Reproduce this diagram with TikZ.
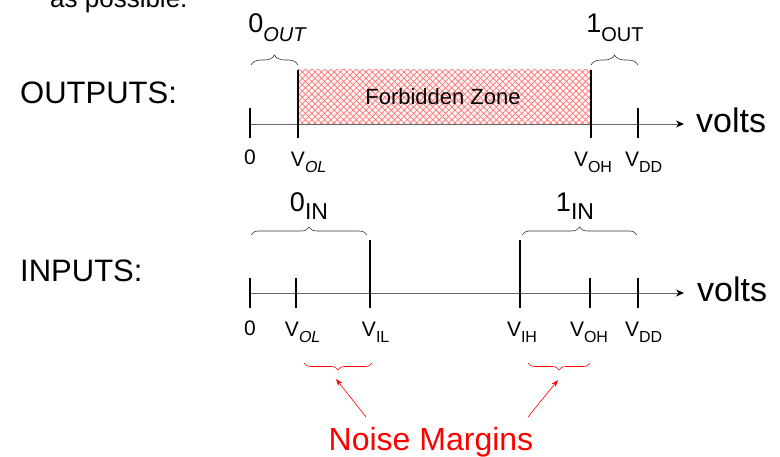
\documentclass[tikz,border=0pt]{standalone}
\usepackage{fontspec}
\setmainfont{Liberation Sans}
\usetikzlibrary{arrows.meta,decorations.pathreplacing,patterns.meta}

\newcommand\fsz[1]{\fontsize{#1}{#1}\selectfont}
\newcommand\lsub[3]{\raisebox{-#1pt}{\fsz{#2}#3}}

\tikzset{
  axisline/.style={draw=black!60, line width=0.9pt, -{Stealth[black,length=8pt,width=7pt]}},
  tickmark/.style={line width=1.5pt},
  valbrace/.style={decorate, decoration={brace, amplitude=#1}, line width=0.6pt, draw=black!80},
  nmbrace/.style={decorate, decoration={brace, mirror, amplitude=7pt}, line width=0.6pt, draw=red},
  nmarrow/.style={draw=red, line width=0.6pt, -{Stealth[length=7pt,width=5pt]}},
  hatch/.style={pattern={Lines[angle=#1,distance=4.5pt,line width=0.7pt]}, pattern color=red!55},
  ticklbl/.style={anchor=base, inner sep=0pt, font=\fsz{21}},
  biglbl/.style={anchor=base west, inner sep=0pt, font=\fsz{31}},
  lvllbl/.style={anchor=base, inner sep=0pt, font=\fsz{27}},
}

\begin{document}
\begin{tikzpicture}[x=1pt, y=-1pt]
    \useasboundingbox (0,0) rectangle (780,457);
    \clip (0,0) rectangle (780,457);

    \node[anchor=base west, inner sep=0pt, font=\fsz{26}] (prev) at (50,8) {as possible.};

    % outputs
    \begin{scope}
        \coordinate (oZ) at (250,124);
        \coordinate (oOL) at (298,124);
        \coordinate (oOH) at (591,124);
        \coordinate (oDD) at (638,124);
        \coordinate (oEnd) at (684,124);

        \node[biglbl] (outs) at (20,104) {OUTPUTS:};

        \fill[red!4] (298,70) rectangle (oOH);
        \fill[hatch=45] (298,70) rectangle (oOH);
        \fill[hatch=-45] (298,70) rectangle (oOH);
        \node[anchor=base, inner sep=0pt, font=\fsz{22}] (fz) at (443,105) {Forbidden Zone};

        \draw[axisline] (oZ) -- (oEnd);
        \node[biglbl, font=\fsz{34}] (voltsO) at (696,133) {volts};

        \draw[tickmark] (oZ) ++(0,-16) -- ++(0,30);
        \draw[tickmark] (oOL) ++(0,-54) -- ++(0,68);
        \draw[tickmark] (oOH) ++(0,-54) -- ++(0,68);
        \draw[tickmark] (oDD) ++(0,-16) -- ++(0,30);

        \node[ticklbl] (lZ) at (250,165) {0};
        \node[ticklbl] (lOL) at (298,167) {V\rlap{\lsub{6}{16}{\itshape OL}}};
        \node[ticklbl] (lOH) at (581,167) {V\rlap{\lsub{6}{16}{OH}}};
        \node[ticklbl] (lDD) at (632,167) {V\rlap{\lsub{6}{16}{DD}}};

        \draw[valbrace=10pt] (251,65) -- (oOL |- 0,65);
        \draw[valbrace=10pt] (oOH |- 0,65) -- (oDD |- 0,65);
        \node[lvllbl] (zeroOut) at (277,33) {0\lsub{9}{20}{\itshape OUT}};
        \node[lvllbl] (oneOut) at (615,33) {1\lsub{9}{20}{OUT}};
    \end{scope}

    % inputs
    \begin{scope}
        \coordinate (iZ) at (250,293);
        \coordinate (iOL) at (296,293);
        \coordinate (iIL) at (370,293);
        \coordinate (iIH) at (520,293);
        \coordinate (iOH) at (590,293);
        \coordinate (iDD) at (638,293);
        \coordinate (iEnd) at (684,293);

        \node[biglbl] (ins) at (20,282) {INPUTS:};

        \draw[axisline] (iZ) -- (iEnd);
        \node[biglbl, font=\fsz{34}] (voltsI) at (697,302) {volts};

        \draw[tickmark] (iZ) ++(0,-15) -- ++(0,30);
        \draw[tickmark] (iOL) ++(0,-15) -- ++(0,30);
        \draw[tickmark] (iIL) ++(0,-53) -- ++(0,68);
        \draw[tickmark] (iIH) ++(0,-53) -- ++(0,68);
        \draw[tickmark] (iOH) ++(0,-15) -- ++(0,30);
        \draw[tickmark] (iDD) ++(0,-15) -- ++(0,30);

        \node[ticklbl] (mZ) at (250,336) {0};
        \node[ticklbl] (mOL) at (292,337) {V\rlap{\lsub{6}{16}{\itshape OL}}};
        \node[ticklbl] (mIL) at (369,337) {V\rlap{\lsub{6}{16}{IL}}};
        \node[ticklbl] (mIH) at (514,337) {V\rlap{\lsub{6}{16}{IH}}};
        \node[ticklbl] (mOH) at (577,337) {V\rlap{\lsub{6}{16}{OH}}};
        \node[ticklbl] (mDD) at (632,337) {V\rlap{\lsub{6}{16}{DD}}};

        \draw[valbrace=8pt] (251,235) -- (367,235);
        \draw[valbrace=8pt] (522,235) -- (637,235);
        \node[lvllbl] (zeroIn) at (309,212) {0\lsub{8}{23}{IN}};
        \node[lvllbl] (oneIn) at (575,212) {1\lsub{8}{23}{IN}};

        \draw[nmbrace] (304,363) -- (372,363);
        \draw[nmbrace] (528,363) -- (590,363);

        \node[anchor=base, inner sep=0pt, font=\fsz{32}, text=red] (noise) at (431,450) {Noise Margins};
        \coordinate (nmLo) at (366,417);
        \coordinate (nmLt) at (336,379);
        \coordinate (nmRo) at (528,417);
        \coordinate (nmRt) at (558,380);
        \draw[nmarrow] (nmLo) -- (nmLt);
        \draw[nmarrow] (nmRo) -- (nmRt);
    \end{scope}
\end{tikzpicture}
\end{document}
